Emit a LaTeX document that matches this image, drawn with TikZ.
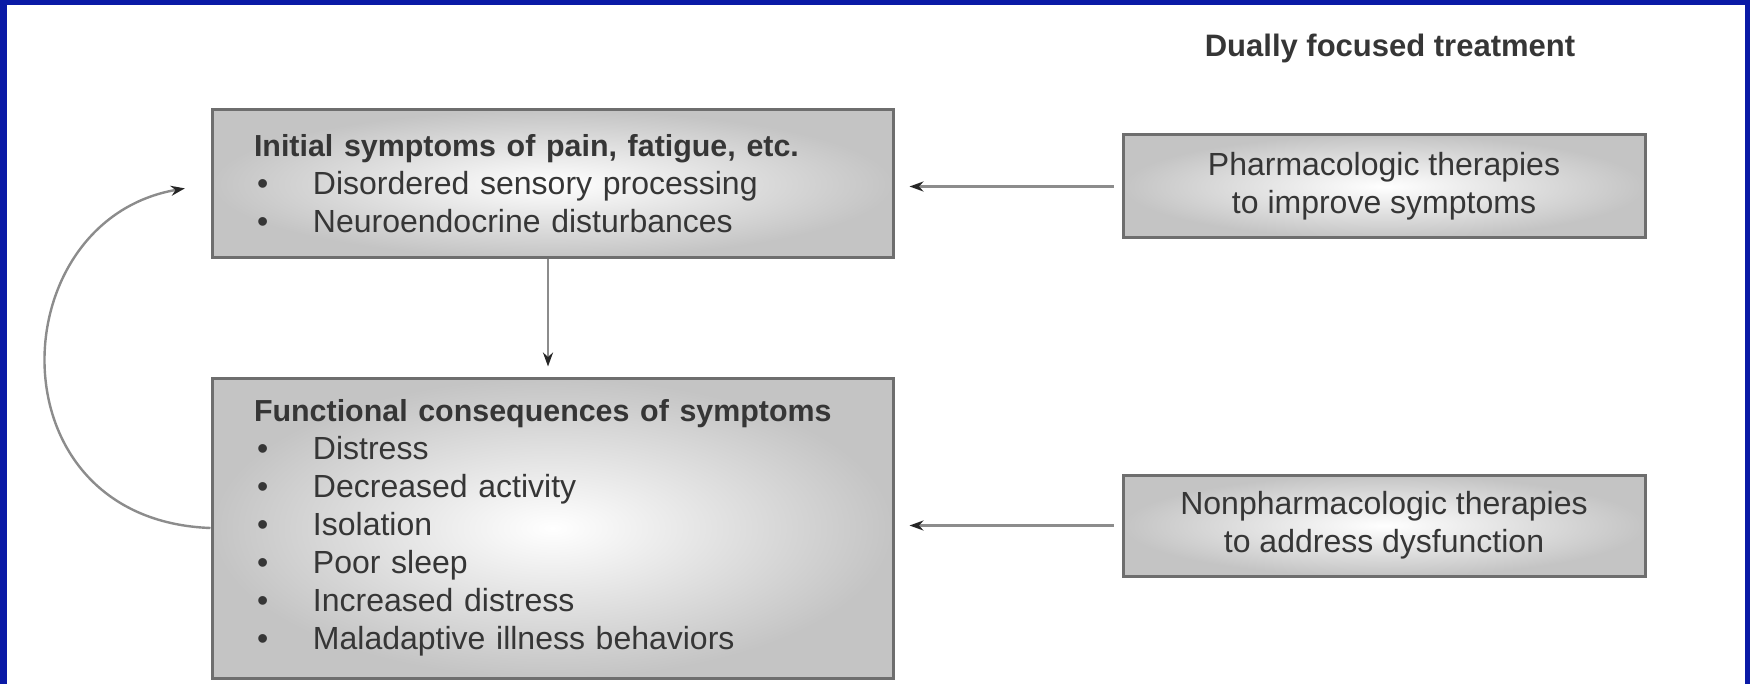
\documentclass[tikz,border=0pt]{standalone}
\usepackage{fontspec}
\setmainfont{Liberation Sans}
\usepackage{xcolor}
\usepackage{tikz}
\usetikzlibrary{arrows.meta,positioning}
\definecolor{slideblue}{HTML}{0A1AA6}
\definecolor{boxedge}{HTML}{6E6E6E}
\definecolor{boxgray}{HTML}{C4C4C4}
\definecolor{ink}{HTML}{363636}
\definecolor{linegray}{HTML}{8C8C8C}
\newcommand{\symitem}[1]{\hspace*{1.5pt}\makebox[28pt][l]{\textbullet}#1}
\newcommand{\symhead}[1]{{\fontsize{15.2}{19}\selectfont\bfseries #1}}
\tikzset{
  symbox/.style={
    rectangle, draw=boxedge, line width=1.5pt,
    inner color=white, outer color=boxgray,
    text=ink, font=\fontsize{16}{19}\selectfont, align=left,
    text width=298.5pt, inner xsep=21pt, inner ysep=0pt
  },
  therapybox/.style={
    rectangle, draw=boxedge, line width=1.5pt,
    inner color=white, outer color=boxgray,
    text=ink, font=\fontsize{16}{19}\selectfont, align=center,
    minimum width=261pt, inner sep=0pt
  },
  feedarrow/.style={
    -{Stealth[length=7pt, width=5pt, color=black!85]}, line width=#1, color=linegray
  },
  feedarrow/.default=1.4pt,
}

\begin{document}
\begin{tikzpicture}[x=0.5pt, y=0.5pt]
  \useasboundingbox (0,0) rectangle (1750,-684);
  \fill[slideblue] (0,0) rectangle (1750,-684);
  \fill[white] (7,-5) rectangle (1745,-684);

  % Symptoms
  \node[symbox, minimum height=74pt] (initial) at (552.5,-184)
    {\symhead{Initial symptoms of pain, fatigue, etc.}\\
     \symitem{Disordered sensory processing}\\
     \symitem{Neuroendocrine disturbances}};
  \node[symbox, minimum height=150pt, below=58.5pt of initial] (funcs)
    {\symhead{Functional consequences of symptoms}\\
     \symitem{Distress}\\
     \symitem{Decreased activity}\\
     \symitem{Isolation}\\
     \symitem{Poor sleep}\\
     \symitem{Increased distress}\\
     \symitem{Maladaptive illness behaviors}};
  \draw[feedarrow, shorten >=5pt] ([xshift=-2.25pt]initial.south) -- ([xshift=-2.25pt]funcs.north);
  \draw[feedarrow=1.2pt, shorten >=13pt] (funcs.west) .. controls (-10,-520) and (0,-220) .. (initial.west);

  % Treatment
  \node[therapybox, minimum height=51.5pt, right=113.5pt of initial, yshift=-1.25pt] (pharm)
    {Pharmacologic therapies\\to improve symptoms};
  \node[therapybox, minimum height=50.5pt, right=113.5pt of funcs, yshift=1.25pt] (nonpharm)
    {Nonpharmacologic therapies\\to address dysfunction};
  \node[text=ink, font=\fontsize{15.5}{19}\selectfont\bfseries, above=31.5pt of pharm, xshift=3pt] (dual-title)
    {Dually focused treatment};
  \draw[feedarrow, shorten <=4pt, shorten >=7.5pt] (pharm.west) -- (pharm.west -| initial.east);
  \draw[feedarrow, shorten <=4pt, shorten >=7.5pt] (nonpharm.west) -- (nonpharm.west -| funcs.east);
\end{tikzpicture}
\end{document}
